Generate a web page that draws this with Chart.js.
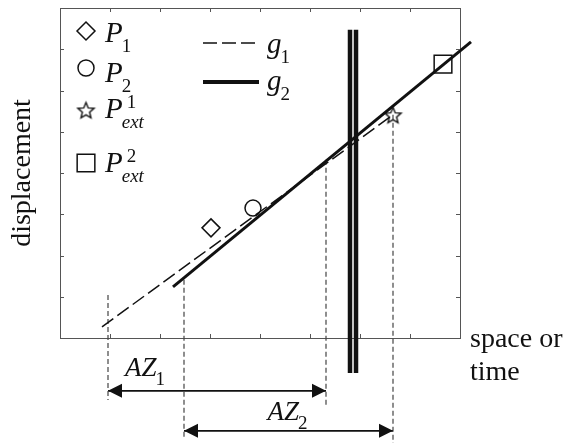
<!DOCTYPE html>
<html>
<head>
<meta charset="utf-8">
<script src="https://cdn.jsdelivr.net/npm/chart.js@4.4.0/dist/chart.umd.min.js"></script>
<style>
  html, body { margin: 0; padding: 0; background: #fff; }
  #wrap { width: 571px; height: 443px; }
</style>
</head>
<body>
<div id="wrap"><canvas id="chart"></canvas></div>
<script>
const axisMin = 0;
const axisMax = 8;
const tickValues = [1, 2, 3, 4, 5, 6, 7];

// measured points
const p1Point = [{ x: 3.02, y: 2.67 }];
const p2Point = [{ x: 3.86, y: 3.15 }];
const pExt1Point = [{ x: 6.66, y: 5.41 }];
const pExt2Point = [{ x: 7.66, y: 6.64 }];

// fitted lines
const g1Line = [{ x: 0.84, y: 0.27 }, { x: 6.66, y: 5.41 }];
const g2Line = [{ x: 2.26, y: 1.24 }, { x: 8.22, y: 7.18 }];

// double vertical barrier
const barrierXs = [5.8, 5.92];
const barrierTop = 7.47;
const barrierBottom = -0.85;

// dashed projection lines
const guideXs = [0.96, 2.48, 5.32, 6.66];
const guideTops = [1.04, 1.41, 4.32, 5.41];
const guideBottoms = [-1.5, -2.42, -1.67, -2.56];

// AZ spans (start x, end x, level)
const az1Span = [0.96, 5.32, -1.28];
const az2Span = [2.48, 6.66, -2.25];

const INK = "#111";
const SERIF = '"Liberation Serif", "DejaVu Serif", serif';

// hollow five point star used for P_ext^1
function makeStar(outer, inner) {
  const size = outer * 2 + 4;
  const c = document.createElement("canvas");
  c.width = size;
  c.height = size;
  const ctx = c.getContext("2d");
  ctx.translate(size / 2, size / 2 + 1);
  ctx.beginPath();
  for (let i = 0; i < 10; i++) {
    const r = i % 2 === 0 ? outer : inner;
    const a = -Math.PI / 2 + (i * Math.PI) / 5;
    ctx.lineTo(r * Math.cos(a), r * Math.sin(a));
  }
  ctx.closePath();
  ctx.strokeStyle = INK;
  ctx.lineWidth = 1.4;
  ctx.stroke();
  return c;
}
const starImg = makeStar(8.5, 3.8);

function markerSet(label, data, style, radius) {
  return {
    label: label,
    data: data,
    showLine: false,
    pointStyle: style,
    pointRadius: radius,
    pointBorderWidth: 1.5,
    pointBorderColor: INK,
    pointBackgroundColor: "rgba(0,0,0,0)",
    clip: false,
    order: 0,
  };
}

function lineSet(label, data, width, dash, color) {
  return {
    label: label,
    data: data,
    borderColor: color || INK,
    borderWidth: width,
    borderDash: dash || [],
    pointRadius: 0,
    clip: false,
    order: 2,
  };
}

const datasets = [
  markerSet("P1", p1Point, "rectRot", 9),
  markerSet("P2", p2Point, "circle", 8),
  markerSet("Pext1", pExt1Point, starImg, 8),
  markerSet("Pext2", pExt2Point, "rect", 12.5),
  lineSet("g1", g1Line, 1.5, [14, 5]),
  lineSet("g2", g2Line, 3),
];

barrierXs.forEach((bx, i) => {
  datasets.push(lineSet("barrier" + i, [{ x: bx, y: barrierTop }, { x: bx, y: barrierBottom }], 4.5));
});

guideXs.forEach((gx, i) => {
  datasets.push(lineSet("guide" + i, [{ x: gx, y: guideTops[i] }, { x: gx, y: guideBottoms[i] }], 1.2, [5, 3], "#444"));
});

[az1Span, az2Span].forEach((s, i) => {
  const ds = lineSet("AZ" + (i + 1), [{ x: s[0], y: s[2] }, { x: s[1], y: s[2] }], 1.8);
  ds.arrow = true;
  datasets.push(ds);
});

// italic symbol with optional subscript / superscript
function drawSymbol(ctx, x, y, main, sub, sup, mainSize, scriptSize) {
  ctx.font = "italic " + mainSize + "px " + SERIF;
  ctx.fillText(main, x, y);
  const w = ctx.measureText(main).width;
  if (sub) {
    const isDigit = /^\d+$/.test(sub);
    ctx.font = (isDigit ? "" : "italic ") + scriptSize + "px " + SERIF;
    ctx.fillText(sub, x + w - 1, y + scriptSize * 0.5);
  }
  if (sup) {
    ctx.font = scriptSize + "px " + SERIF;
    ctx.fillText(sup, x + w + 4, y - mainSize * 0.36);
  }
}

const decorPlugin = {
  id: "decor",
  afterDraw(chart) {
    const ctx = chart.ctx;
    const area = chart.chartArea;
    const sx = chart.scales.x;
    const sy = chart.scales.y;
    ctx.save();

    // inward ticks on all four sides
    ctx.strokeStyle = "#555";
    ctx.lineWidth = 1;
    ctx.beginPath();
    tickValues.forEach((v) => {
      const px = Math.round(sx.getPixelForValue(v)) + 0.5;
      ctx.moveTo(px, area.bottom);
      ctx.lineTo(px, area.bottom - 4);
      ctx.moveTo(px, area.top);
      ctx.lineTo(px, area.top + 4);
      const py = Math.round(sy.getPixelForValue(v)) + 0.5;
      ctx.moveTo(area.left, py);
      ctx.lineTo(area.left + 4, py);
      ctx.moveTo(area.right, py);
      ctx.lineTo(area.right - 4, py);
    });
    ctx.stroke();

    // arrowheads
    ctx.fillStyle = INK;
    chart.data.datasets.forEach((ds, i) => {
      if (!ds.arrow) return;
      const pts = chart.getDatasetMeta(i).data;
      const a = pts[0];
      const b = pts[pts.length - 1];
      [[a, -1], [b, 1]].forEach(([p, dir]) => {
        ctx.beginPath();
        ctx.moveTo(p.x, p.y);
        ctx.lineTo(p.x - dir * 14, p.y - 7);
        ctx.lineTo(p.x - dir * 14, p.y + 7);
        ctx.closePath();
        ctx.fill();
      });
    });

    ctx.fillStyle = INK;
    ctx.textBaseline = "alphabetic";
    ctx.textAlign = "left";

    // AZ labels
    const az1 = chart.getDatasetMeta(chart.data.datasets.findIndex((d) => d.label === "AZ1")).data;
    const az2 = chart.getDatasetMeta(chart.data.datasets.findIndex((d) => d.label === "AZ2")).data;
    drawSymbol(ctx, az1[0].x + 17, az1[0].y - 15, "AZ", "1", null, 27, 19);
    drawSymbol(ctx, (az2[0].x + az2[1].x) / 2 - 21, az2[0].y - 11, "AZ", "2", null, 27, 19);

    // x axis caption on the right
    ctx.font = "28px " + SERIF;
    ctx.fillText("space or", area.right + 10, area.bottom + 9);
    ctx.fillText("time", area.right + 10, area.bottom + 42);

    // legend, left column: markers
    const L = area.left;
    const T = area.top;
    const marks = [
      { ds: 0, mx: 26, my: 23, tx: 45, ty: 34, sub: "1", sup: null },
      { ds: 1, mx: 26, my: 60, tx: 45, ty: 74, sub: "2", sup: null },
      { ds: 2, mx: 26, my: 102, tx: 45, ty: 110, sub: "ext", sup: "1" },
      { ds: 3, mx: 26, my: 155, tx: 45, ty: 164, sub: "ext", sup: "2" },
    ];
    marks.forEach((m) => {
      const ds = chart.data.datasets[m.ds];
      ctx.strokeStyle = INK;
      ctx.fillStyle = "rgba(0,0,0,0)";
      ctx.lineWidth = 1.5;
      Chart.helpers.drawPoint(ctx, { pointStyle: ds.pointStyle, radius: ds.pointRadius, borderWidth: 1.5, rotation: 0 }, L + m.mx, T + m.my);
      ctx.fillStyle = INK;
      drawSymbol(ctx, L + m.tx, T + m.ty, "P", m.sub, m.sup, 29, 19);
    });

    // legend, right column: lines
    const lines = [
      { ds: 4, y: 35, ty: 45, sub: "1", w: 1.5 },
      { ds: 5, y: 74, ty: 82, sub: "2", w: 4 },
    ];
    lines.forEach((l) => {
      const ds = chart.data.datasets[l.ds];
      ctx.strokeStyle = INK;
      ctx.lineWidth = l.w;
      ctx.setLineDash(ds.borderDash);
      ctx.beginPath();
      ctx.moveTo(L + 143, T + l.y);
      ctx.lineTo(L + 199, T + l.y);
      ctx.stroke();
      ctx.setLineDash([]);
      ctx.fillStyle = INK;
      drawSymbol(ctx, L + 207, T + l.ty, "g", l.sub, null, 29, 19);
    });

    ctx.restore();
  },
};

const frameAxis = {
  type: "linear",
  min: axisMin,
  max: axisMax,
  ticks: { display: false },
  grid: { display: false },
  border: { display: true, color: "#555", width: 1 },
};

new Chart(document.getElementById("chart"), {
  type: "line",
  data: { datasets: datasets },
  options: {
    responsive: true,
    maintainAspectRatio: false,
    animation: false,
    layout: { autoPadding: false, padding: { left: 0, right: 111, top: 8, bottom: 105 } },
    plugins: { legend: { display: false }, tooltip: { enabled: false } },
    scales: {
      x: { ...frameAxis, position: "bottom", afterFit: (s) => { s.height = 0; } },
      xTop: { ...frameAxis, position: "top", afterFit: (s) => { s.height = 0; } },
      y: {
        ...frameAxis,
        position: "left",
        afterFit: (s) => { s.width = 60; },
        title: {
          display: true,
          text: "displacement",
          color: INK,
          font: { family: SERIF, size: 28 },
          padding: { top: 6, bottom: 14 },
        },
      },
      yRight: { ...frameAxis, position: "right", afterFit: (s) => { s.width = 0; } },
    },
  },
  plugins: [decorPlugin],
});
</script>
</body>
</html>
